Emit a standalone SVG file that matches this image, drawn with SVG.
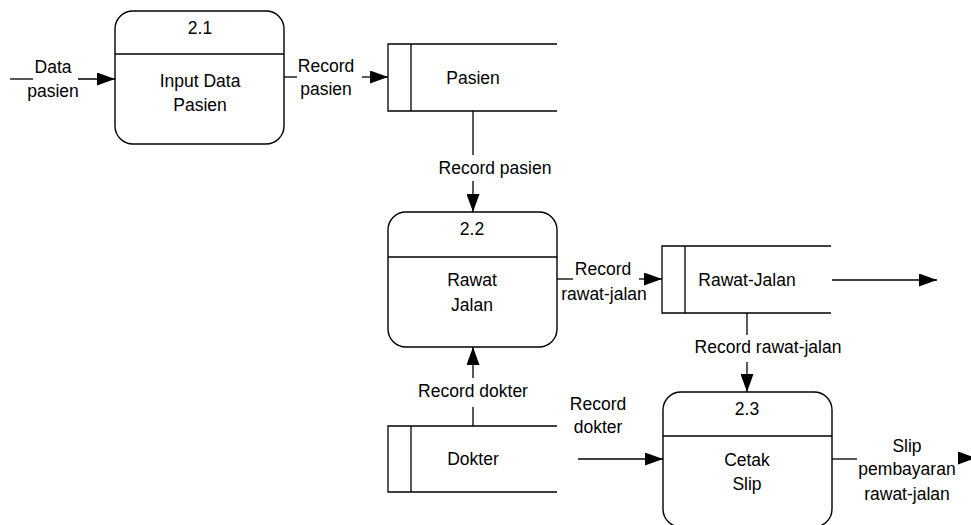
<svg xmlns="http://www.w3.org/2000/svg" width="971" height="525" viewBox="0 0 971 525">
<style>
.box{fill:#fff;stroke:#000;stroke-width:1.4}
.ln{fill:none;stroke:#000;stroke-width:1.3}
.t{font-family:"Liberation Sans",Arial,sans-serif;font-size:17.5px;fill:#000;text-anchor:middle}
</style>
<defs>
<marker id="ah" markerUnits="userSpaceOnUse" markerWidth="19" markerHeight="13" refX="18" refY="6.5" orient="auto">
<path d="M0,0 L18,6.5 L0,13 Z" fill="#000"/>
</marker>
</defs>
<rect width="971" height="525" fill="#fff"/>
<g id="connectors">
<line class="ln" x1="10" y1="79" x2="33" y2="79"/>
<line class="ln" x1="78" y1="79" x2="115" y2="79" marker-end="url(#ah)"/>
<text class="t" x="53" y="73">Data</text>
<text class="t" x="53" y="97">pasien</text>
<line class="ln" x1="284" y1="77" x2="297" y2="77"/>
<line class="ln" x1="362" y1="77" x2="388" y2="77" marker-end="url(#ah)"/>
<text class="t" x="326" y="72">Record</text>
<text class="t" x="326" y="95">pasien</text>
<line class="ln" x1="473" y1="111" x2="473" y2="155"/>
<line class="ln" x1="473" y1="181" x2="473" y2="212" marker-end="url(#ah)"/>
<text class="t" x="495" y="174">Record pasien</text>
<line class="ln" x1="557" y1="279" x2="573" y2="279"/>
<line class="ln" x1="639" y1="279" x2="662" y2="279" marker-end="url(#ah)"/>
<text class="t" x="603" y="275">Record</text>
<text class="t" x="604" y="300">rawat-jalan</text>
<line class="ln" x1="832" y1="280" x2="937" y2="280" marker-end="url(#ah)"/>
<line class="ln" x1="747" y1="313" x2="747" y2="335"/>
<line class="ln" x1="747" y1="362" x2="747" y2="392" marker-end="url(#ah)"/>
<text class="t" x="768" y="353">Record rawat-jalan</text>
<line class="ln" x1="473" y1="426" x2="473" y2="407"/>
<line class="ln" x1="473" y1="378" x2="473" y2="347" marker-end="url(#ah)"/>
<text class="t" x="473" y="397">Record dokter</text>
<line class="ln" x1="578" y1="459" x2="663" y2="459" marker-end="url(#ah)"/>
<text class="t" x="598" y="410">Record</text>
<text class="t" x="598" y="433">dokter</text>
<line class="ln" x1="832" y1="459" x2="857" y2="459"/>
<line class="ln" x1="958" y1="458" x2="976" y2="458" marker-end="url(#ah)"/>
<text class="t" x="907" y="452">Slip</text>
<text class="t" x="907" y="475">pembayaran</text>
<text class="t" x="907" y="500">rawat-jalan</text>
</g>
<g id="p21">
<rect class="box" x="115" y="11" width="169" height="133" rx="18"/>
<line class="ln" x1="115" y1="54" x2="284" y2="54"/>
<text class="t" x="200" y="34">2.1</text>
<text class="t" x="200" y="87">Input Data</text>
<text class="t" x="200" y="111">Pasien</text>
</g>
<g id="ds-pasien">
<path class="ln" d="M557,44 H388 V111 H557 M411,44 V111"/>
<text class="t" x="473" y="84">Pasien</text>
</g>
<g id="p22">
<rect class="box" x="388" y="212" width="169" height="135" rx="18"/>
<line class="ln" x1="388" y1="257" x2="557" y2="257"/>
<text class="t" x="472" y="235">2.2</text>
<text class="t" x="472" y="286">Rawat</text>
<text class="t" x="472" y="311">Jalan</text>
</g>
<g id="ds-rawat">
<path class="ln" d="M831,246 H662 V313 H831 M685,246 V313"/>
<text class="t" x="747" y="286">Rawat-Jalan</text>
</g>
<g id="ds-dokter">
<path class="ln" d="M557,426 H388 V492 H557 M411,426 V492"/>
<text class="t" x="473" y="465">Dokter</text>
</g>
<g id="p23">
<rect class="box" x="663" y="392" width="169" height="135" rx="18"/>
<line class="ln" x1="663" y1="436" x2="832" y2="436"/>
<text class="t" x="747" y="415">2.3</text>
<text class="t" x="747" y="466">Cetak</text>
<text class="t" x="747" y="490">Slip</text>
</g>
</svg>
